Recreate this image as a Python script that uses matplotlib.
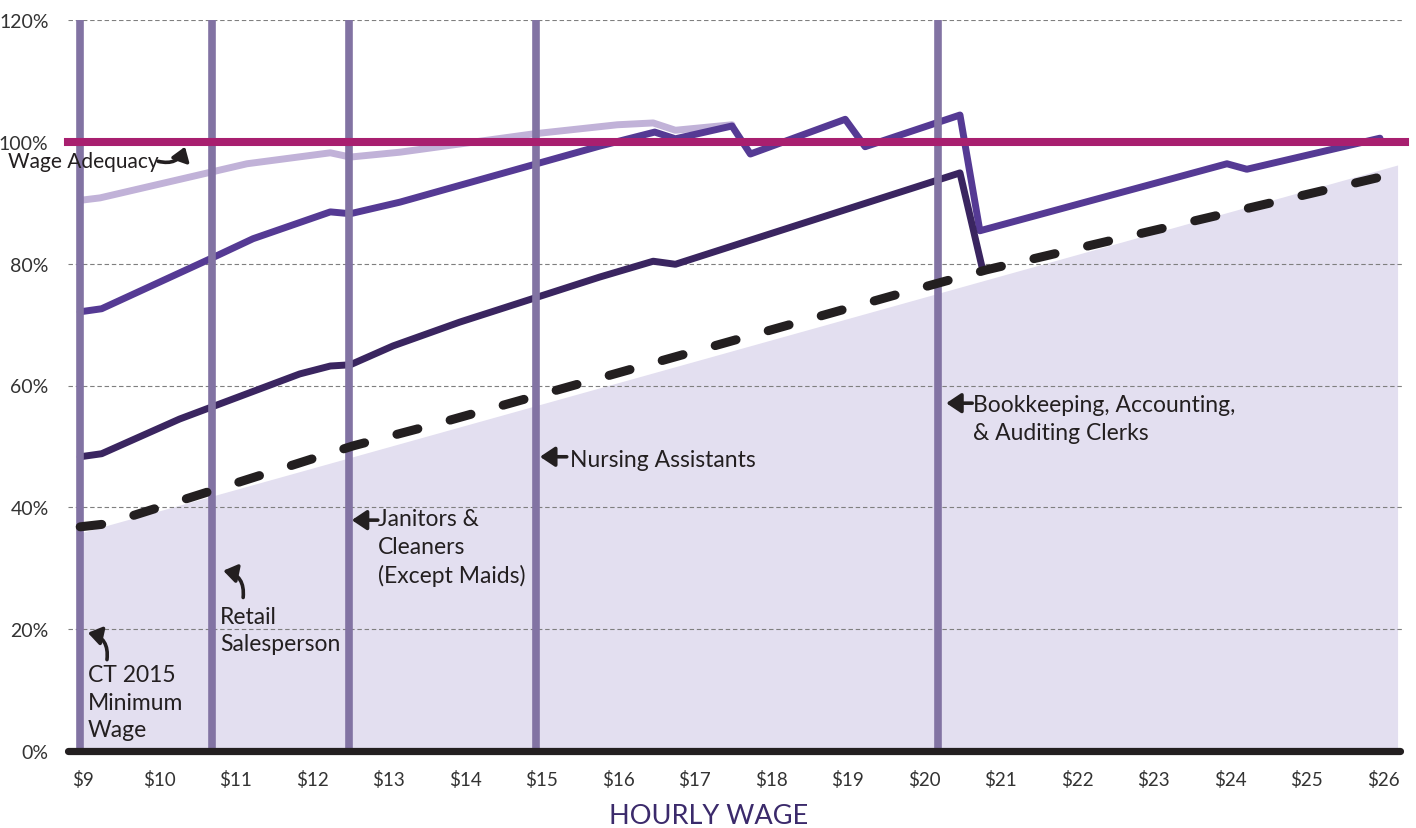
import matplotlib
matplotlib.use("Agg")
import matplotlib.pyplot as plt

plt.rcParams['font.family'] = ['Lato', 'DejaVu Sans']

# ---------------- data ----------------
wage_ticks = list(range(9, 27))
wage_labels = ["$" + str(w) for w in wage_ticks]
pct_ticks = [0, 20, 40, 60, 80, 100, 120]
pct_labels = [f"{p}%" for p in pct_ticks]

# light lavender series
lav_x = [8.97, 9.23, 10.67, 11.15, 12.24, 12.50, 13.15, 14.89, 15.99, 16.46, 16.75, 17.49]
lav_y = [90.4, 90.8, 95.0, 96.4, 98.2, 97.5, 98.3, 101.3, 102.8, 103.1, 101.9, 102.8]

# medium purple series
pur_x = [8.97, 9.25, 10.67, 11.23, 12.24, 12.50, 13.15, 15.76, 16.48, 16.75, 17.49, 17.73,
         18.97, 19.23, 20.47, 20.73, 23.96, 24.22, 25.96]
pur_y = [72.1, 72.6, 80.8, 84.1, 88.5, 88.2, 90.1, 99.3, 101.6, 100.5, 102.6, 98.0,
         103.7, 99.2, 104.4, 85.4, 96.4, 95.5, 100.6]

# dark purple series
drk_x = [8.97, 9.25, 10.27, 11.84, 12.24, 12.50, 13.06, 13.93, 15.76, 16.46, 16.75, 20.47, 20.77]
drk_y = [48.3, 48.8, 54.5, 61.9, 63.2, 63.4, 66.5, 70.4, 77.8, 80.4, 79.9, 94.9, 78.8]

# dashed black series
dsh_x = [8.97, 9.32, 10.76, 12.54, 13.63, 19.75, 20.82, 25.96]
dsh_y = [36.8, 37.3, 43.0, 50.1, 53.7, 75.3, 79.0, 94.2]

# shaded area
shade_x = [8.97, 26.19]
shade_y = [35.8, 96.2]

# occupation wage markers
marker_wages = [8.97, 10.69, 12.48, 14.93, 20.18]

adequacy_level = 100
adequacy_x = [8.81, 26.29]

# ---------------- colours ----------------
C_MAG = '#a81f6f'
C_VERT = '#8273a3'
C_LAV = '#c1b2d8'
C_PUR = '#553a94'
C_DRK = '#3a2560'
C_BLK = '#231f20'
C_SHADE = '#e3dff0'
C_GRID = '#7f7f7f'
C_TITLE = '#3b2a6b'

# ---------------- figure ----------------
W, H = 1416, 829
fig = plt.figure(figsize=(W / 100, H / 100), dpi=100)
ax = fig.add_axes([68 / W, 77 / H, 1334 / W, 731 / H])
ax.set_xlim(8.8105, 26.248)
ax.set_ylim(0, 120)

for s in ax.spines.values():
    s.set_visible(False)

ax.fill_between(shade_x, shade_y, 0, color=C_SHADE, lw=0, zorder=1)

for g in [20, 40, 60, 80, 120]:
    ax.axhline(g, color=C_GRID, lw=0.8, dashes=(4, 2.5), zorder=2)

common = dict(solid_capstyle='round', solid_joinstyle='round')
ax.plot(lav_x, lav_y, color=C_LAV, lw=5.0, zorder=3, **common)
ax.plot(pur_x, pur_y, color=C_PUR, lw=5.0, zorder=4, **common)
ax.plot(drk_x, drk_y, color=C_DRK, lw=5.0, zorder=4, **common)

for mw in marker_wages:
    ax.plot([mw, mw], [0.3, 120], color=C_VERT, lw=5.5, solid_capstyle='butt', zorder=5)

ax.plot(dsh_x, dsh_y, color=C_BLK, lw=6.5, dashes=(2.4, 3.7), dash_capstyle='round',
        zorder=6)

ax.plot(adequacy_x, [adequacy_level] * 2, color=C_MAG, lw=5.8, solid_capstyle='projecting',
        zorder=7, clip_on=False)

ax.plot([8.8105, 26.22], [0, 0], color=C_BLK, lw=5.2, solid_capstyle='round', zorder=8,
        clip_on=False)

ax.set_xticks(wage_ticks)
ax.set_xticklabels(wage_labels, fontsize=13.5, color='#333333')
ax.set_yticks(pct_ticks)
ax.set_yticklabels(pct_labels, fontsize=14, color='#333333')
ax.tick_params(axis='both', length=0)
ax.tick_params(axis='x', pad=14)
ax.tick_params(axis='y', pad=14)

fig.text(709 / W, 1 - 817 / H, "HOURLY WAGE", ha='center', va='center', fontsize=19.5,
         color=C_TITLE)

# ---------------- annotations ----------------
TXT = dict(fontsize=16.5, color=C_BLK, ha='left', va='center', linespacing=1.38, zorder=10)

ax.text(8.03, 96.9, "Wage Adequacy", clip_on=False, **{**TXT, 'fontsize': 15})
ax.text(9.07, 8.0, "CT 2015\nMinimum\nWage", **TXT)
ax.text(10.80, 19.9, "Retail\nSalesperson", **TXT)
ax.text(12.86, 33.5, "Janitors &\nCleaners\n(Except Maids)", **TXT)
ax.text(15.37, 47.9, "Nursing Assistants", **TXT)
ax.text(20.64, 54.6, "Bookkeeping, Accounting,\n& Auditing Clerks", **TXT)

curved = dict(arrowstyle='-|>,head_width=0.55,head_length=0.8', lw=2.6, color=C_BLK,
              shrinkA=0, shrinkB=0)
ax.annotate('', xy=(10.34, 99.2), xytext=(9.99, 96.8),
            arrowprops={**curved, 'connectionstyle': 'arc3,rad=0.45'}, zorder=10)
ax.annotate('', xy=(9.07, 19.4), xytext=(9.32, 15.0),
            arrowprops={**curved, 'connectionstyle': 'arc3,rad=0.45'}, zorder=10)
ax.annotate('', xy=(10.84, 29.6), xytext=(11.10, 25.2),
            arrowprops={**curved, 'connectionstyle': 'arc3,rad=0.45'}, zorder=10)

straight = dict(arrowstyle='-|>,head_width=0.6,head_length=0.9', lw=2.6, color=C_BLK,
                shrinkA=0, shrinkB=0)
ax.annotate('', xy=(12.52, 37.9), xytext=(12.86, 37.9), arrowprops=straight, zorder=10)
ax.annotate('', xy=(14.98, 48.3), xytext=(15.33, 48.3), arrowprops=straight, zorder=10)
ax.annotate('', xy=(20.29, 57.1), xytext=(20.63, 57.1), arrowprops=straight, zorder=10)

fig.savefig("out.png", dpi=100)
